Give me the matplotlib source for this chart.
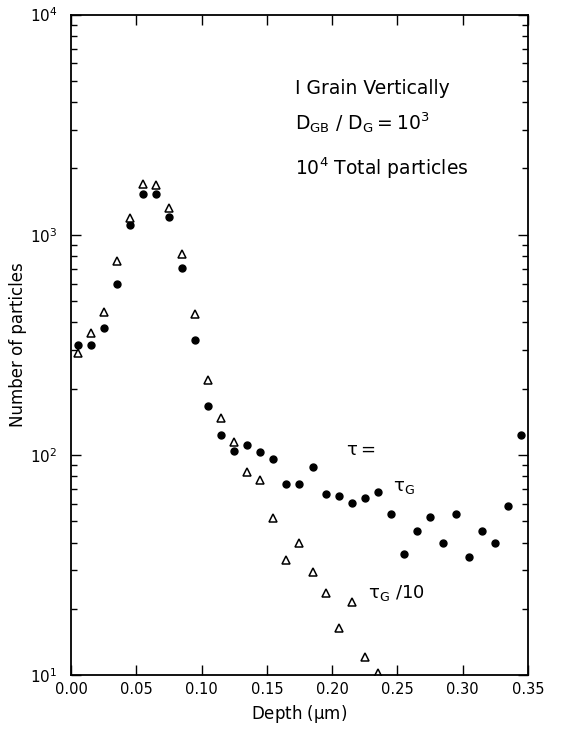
import matplotlib.pyplot as plt
from matplotlib.ticker import LogLocator, NullFormatter, FixedLocator

# Profundidad (centros de bin, um)
depth = [0.005 + 0.01 * i for i in range(35)]

# tau = tau_G  (circulos llenos)
n_tau_g = [316, 314, 377, 599, 1103, 1531, 1531, 1207, 703, 333,
           167, 123, 104, 111, 103.5, 95.6, 74, 73.7, 88.2, 66.5,
           65.1, 60.5, 63.9, 68.1, 53.8, 35.5, 45.2, 52.4, 39.7, 53.8,
           34.5, 44.9, 39.8, 58.7, 123]

# tau = tau_G / 10  (triangulos abiertos)
depth_tri = depth[:24]
n_tau_g10 = [290, 357, 445, 762, 1191, 1700, 1687, 1323, 817, 436,
             219, 147, 114, 83.4, 76.7, 51.6, 33.2, 39.7, 29.3, 23.5,
             16.3, 21.4, 12.1, 10.2]

xticks = [0.00, 0.05, 0.10, 0.15, 0.20, 0.25, 0.30, 0.35]
xtick_labels = ["0.00", "0.05", "0.10", "0.15", "0.20", "0.25", "0.30", "0.35"]

plt.rcParams['mathtext.default'] = 'regular'

fig = plt.figure(figsize=(5.64, 7.29), dpi=100)
ax = fig.add_axes([0.126, 0.074, 0.810, 0.906])

ax.plot(depth, n_tau_g, linestyle="none", marker="o", markersize=5,
        color="black", clip_on=False)
ax.plot(depth_tri, n_tau_g10, linestyle="none", marker="^", markersize=6,
        markerfacecolor="white", markeredgecolor="black", markeredgewidth=1.1)

ax.set_yscale("log")
ax.set_xlim(0, 0.35)
ax.set_ylim(10, 1e4)

ax.xaxis.set_major_locator(FixedLocator(xticks))
ax.set_xticklabels(xtick_labels, fontsize=10.5)
ax.yaxis.set_major_locator(FixedLocator([10, 100, 1000, 10000]))
ax.set_yticklabels([r"$10^{1}$", r"$10^{2}$", r"$10^{3}$", r"$10^{4}$"], fontsize=11)
ax.yaxis.set_minor_locator(LogLocator(base=10, subs=range(2, 10)))
ax.yaxis.set_minor_formatter(NullFormatter())

ax.tick_params(which="both", direction="in", top=True, right=True, width=1)
ax.tick_params(which="major", length=7)
ax.tick_params(which="minor", length=4)
ax.tick_params(axis="x", pad=5)
ax.tick_params(axis="y", pad=10)
for s in ax.spines.values():
    s.set_linewidth(1.3)

ax.set_xlabel(r"Depth ($\mu$m)", fontsize=12)
ax.set_ylabel("Number of particles", fontsize=12, labelpad=2)

# Texto del recuadro
ax.text(0.49, 0.88, "I Grain Vertically", transform=ax.transAxes, fontsize=13.5)
ax.text(0.49, 0.825, r"$D_{GB}\ /\ D_G = 10^3$", transform=ax.transAxes, fontsize=13.5)
ax.text(0.49, 0.757, r"$10^4$ Total particles", transform=ax.transAxes, fontsize=13.5)

# Etiquetas de las series
ax.text(0.211, 105, r"$\tau =$", fontsize=13, va="center")
ax.text(0.247, 71.6, r"$\tau_G$", fontsize=13, va="center")
ax.text(0.2275, 23.6, r"$\tau_G\ /10$", fontsize=13, va="center")

fig.savefig("out.png", dpi=100)
